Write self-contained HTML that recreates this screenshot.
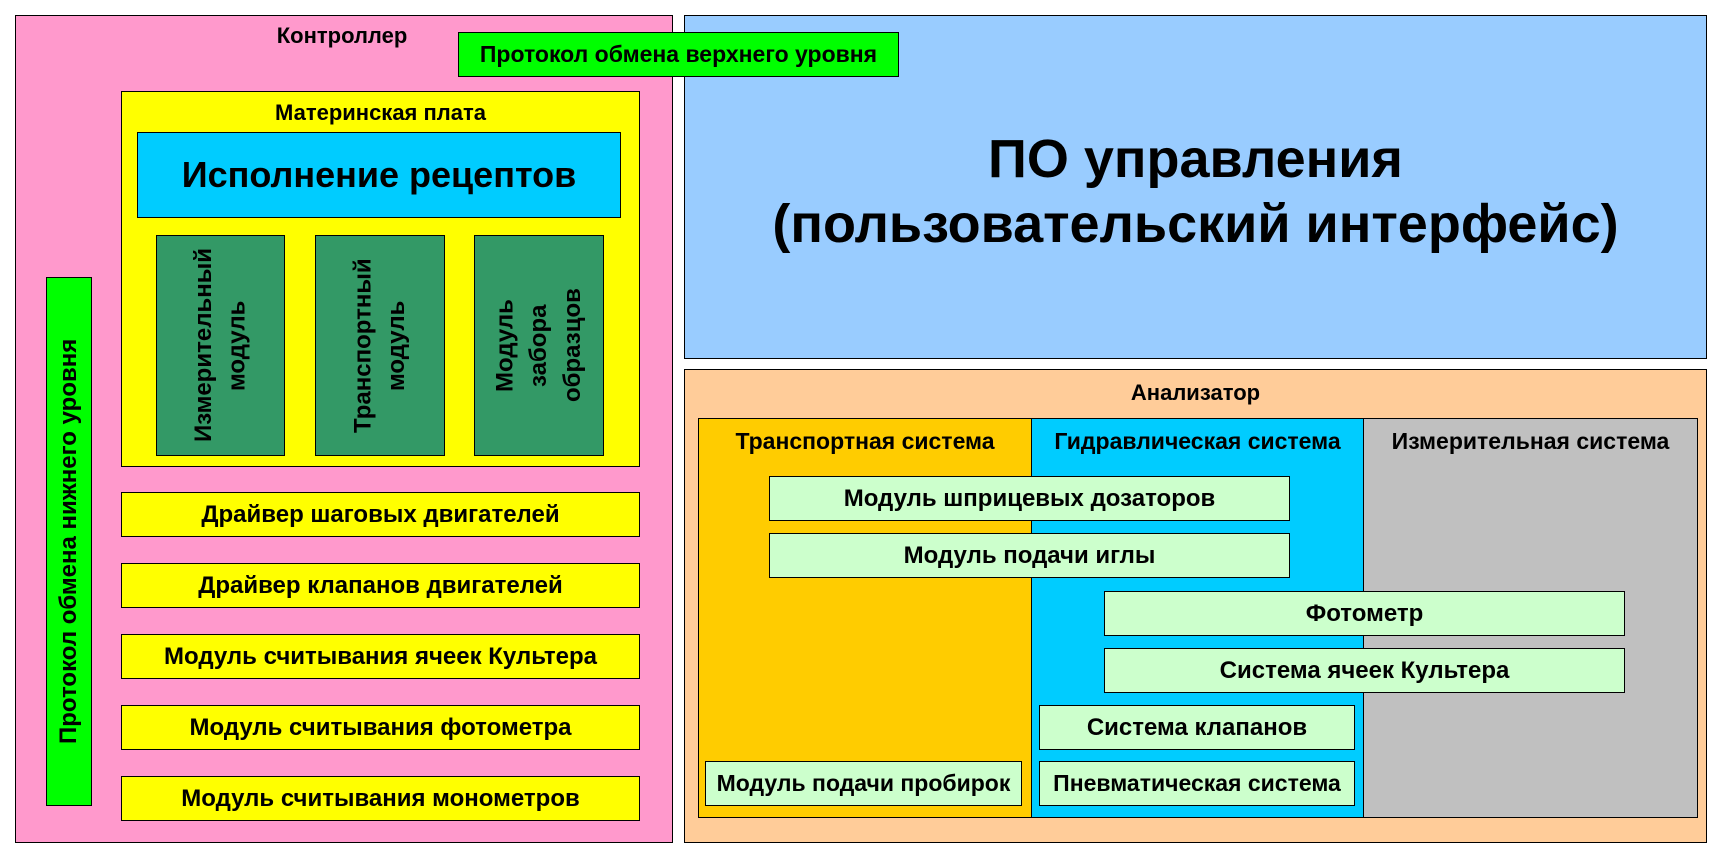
<!DOCTYPE html>
<html><head><meta charset="utf-8"><style>
body{margin:0;width:1722px;height:859px;background:#fff;position:relative;overflow:hidden;font-family:"Liberation Sans",Arial,sans-serif;font-weight:bold;color:#000}
.b{position:absolute;box-sizing:border-box;border:1.5px solid #000;display:flex;align-items:center;justify-content:center;text-align:center;font-size:24px}
.t{position:absolute;font-size:24px;text-align:center;white-space:nowrap}
.v{writing-mode:vertical-rl;line-height:1.4}
</style></head><body>
<div class="b" style="left:15px;top:15px;width:658px;height:828px;background:#ff99cc"></div>
<div class="t" style="left:15px;top:23px;width:658px;font-size:22px"><span style="position:relative;left:-2px">Контроллер</span></div>
<div class="b" style="left:121px;top:91px;width:519px;height:376px;background:#ffff00;align-items:flex-start;padding-top:8px;font-size:22px">Материнская плата</div>
<div class="b" style="left:137px;top:132px;width:484px;height:86px;background:#00ccff;font-size:36px">Исполнение рецептов</div>
<div class="b v" style="left:156px;top:235px;width:129px;height:221px;background:#339966;transform:rotate(180deg)">Измерительный<br>модуль</div>
<div class="b v" style="left:315px;top:235px;width:130px;height:221px;background:#339966;transform:rotate(180deg)">Транспортный<br>модуль</div>
<div class="b v" style="left:474px;top:235px;width:130px;height:221px;background:#339966;transform:rotate(180deg)">Модуль<br>забора<br>образцов</div>
<div class="b v" style="left:46px;top:277px;width:46px;height:529px;background:#00ff00;transform:rotate(180deg)">Протокол обмена нижнего уровня</div>
<div class="b" style="left:121px;top:492px;width:519px;height:45px;background:#ffff00">Драйвер шаговых двигателей</div>
<div class="b" style="left:121px;top:563px;width:519px;height:45px;background:#ffff00">Драйвер клапанов двигателей</div>
<div class="b" style="left:121px;top:634px;width:519px;height:45px;background:#ffff00">Модуль считывания ячеек Культера</div>
<div class="b" style="left:121px;top:705px;width:519px;height:45px;background:#ffff00">Модуль считывания фотометра</div>
<div class="b" style="left:121px;top:776px;width:519px;height:45px;background:#ffff00">Модуль считывания монометров</div>

<div class="b" style="left:684px;top:15px;width:1023px;height:344px;background:#99ccff;font-size:54px;line-height:1.2;padding-top:10px">ПО управления<br>(пользовательский интерфейс)</div>
<div class="b" style="left:458px;top:32px;width:441px;height:45px;background:#00ff00;font-size:23px">Протокол обмена верхнего уровня</div>

<div class="b" style="left:684px;top:369px;width:1023px;height:474px;background:#ffcc99;align-items:flex-start;padding-top:10px;font-size:22px">Анализатор</div>
<div class="b" style="left:698px;top:418px;width:1000px;height:400px;background:#c0c0c0"></div>
<div style="position:absolute;left:699px;top:419px;width:332px;height:398px;background:#ffcc00;border-right:1.5px solid #000"></div>
<div style="position:absolute;left:1032px;top:419px;width:331px;height:398px;background:#00ccff;border-right:1.5px solid #000"></div>
<div class="t" style="left:699px;top:428px;width:332px;font-size:23px">Транспортная система</div>
<div class="t" style="left:1032px;top:428px;width:331px;font-size:23px">Гидравлическая система</div>
<div class="t" style="left:1364px;top:428px;width:333px;font-size:23px">Измерительная система</div>
<div class="b" style="left:769px;top:476px;width:521px;height:45px;background:#ccffcc">Модуль шприцевых дозаторов</div>
<div class="b" style="left:769px;top:533px;width:521px;height:45px;background:#ccffcc">Модуль подачи иглы</div>
<div class="b" style="left:1104px;top:591px;width:521px;height:45px;background:#ccffcc">Фотометр</div>
<div class="b" style="left:1104px;top:648px;width:521px;height:45px;background:#ccffcc">Система ячеек Культера</div>
<div class="b" style="left:1039px;top:705px;width:316px;height:45px;background:#ccffcc">Система клапанов</div>
<div class="b" style="left:1039px;top:761px;width:316px;height:45px;background:#ccffcc;font-size:23px">Пневматическая система</div>
<div class="b" style="left:705px;top:761px;width:317px;height:45px;background:#ccffcc;font-size:23px;white-space:nowrap">Модуль подачи пробирок</div>
</body></html>
